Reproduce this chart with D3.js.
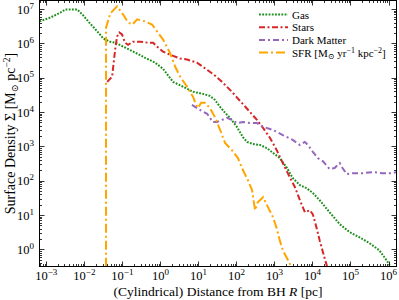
<!DOCTYPE html>
<html>
<head>
<meta charset="utf-8">
<script src="https://cdn.jsdelivr.net/npm/d3@7"></script>
<style>
  body { margin: 0; background: #fff; }
  text { font-family: "Liberation Serif", "DejaVu Serif", serif; fill: #000; }
</style>
</head>
<body>
<div id="chart"></div>
<script>
// DATA (log10 R [pc], log10 Sigma)
var gasLogR = [-3.18,-2.90,-2.63,-2.50,-2.19,-2.05,-1.85,-1.66,-1.50,-1.32,
  -1.19,-0.93,-0.66,-0.40,-0.14,0.07,0.33,0.59,0.86,0.99,
  1.12,1.30,1.43,1.57,1.70,1.83,2.01,2.17,2.28,2.43,
  2.62,2.80,2.96,3.14,3.33,3.48,3.67,3.85,4.01,4.19,
  4.45,4.72,4.98,5.24,5.50,5.76,5.95,6.08];
var gasLogS = [6.64,6.75,6.90,6.99,6.99,6.84,6.58,6.35,6.14,6.05,
  6.02,5.88,5.73,5.58,5.44,5.26,4.88,4.74,4.59,4.56,
  4.53,4.47,4.36,4.15,3.98,3.83,3.57,3.27,3.13,3.07,
  3.04,2.95,2.81,2.66,2.37,2.08,1.87,1.78,1.64,1.43,
  1.08,0.73,0.50,0.35,0.18,-0.03,-0.32,-0.56];

var starLogR = [-1.40,-1.27,-1.19,-1.14,-1.08,-1.01,-0.93,-0.85,-0.72,-0.53,
  -0.32,-0.19,-0.06,0.07,0.25,0.52,0.70,0.96,1.23,1.44,
  1.62,1.88,2.09,2.35,2.54,2.70,2.88,3.06,3.22,3.40,
  3.54,3.67,3.80,3.93,4.01,4.09,4.19,4.32,4.40];
var starLogS = [4.88,5.03,5.82,6.20,6.32,6.26,6.02,5.96,6.05,6.05,
  6.02,6.02,5.88,5.76,5.67,5.56,5.53,5.44,5.23,5.06,
  4.88,4.59,4.33,4.01,3.77,3.54,3.25,2.89,2.51,2.11,
  1.81,1.43,1.08,1.14,1.02,0.70,0.26,-0.26,-0.56];

var dmLogR = [0.83,1.04,1.23,1.38,1.49,1.62,1.75,1.88,2.01,2.17,
  2.35,2.54,2.70,2.96,3.22,3.48,3.67,3.80,3.88,4.01,
  4.14,4.27,4.45,4.58,4.72,4.79,4.90,5.06,5.32,5.58,
  5.84,6.08,6.21];
var dmLogS = [4.21,4.06,3.95,3.71,3.71,3.77,3.83,3.77,3.68,3.71,
  3.68,3.68,3.57,3.48,3.33,3.19,3.04,3.13,3.04,2.84,
  2.66,2.57,2.34,2.37,2.51,2.37,2.19,2.22,2.22,2.25,
  2.22,2.22,2.25];

var sfrLogR = [-1.43,-1.43,-1.32,-1.14,-0.98,-0.85,-0.74,-0.61,-0.40,-0.22,
  -0.09,0.07,0.25,0.39,0.52,0.70,0.86,0.94,0.99,1.07,
  1.17,1.30,1.43,1.57,1.70,1.88,2.04,2.17,2.30,2.41,
  2.49,2.56,2.70,2.83,2.96,3.06,3.14,3.22,3.33,3.40,
  3.46];
var sfrLogS = [-1.00,6.46,6.87,7.08,6.84,6.61,6.55,6.70,6.64,6.55,
  6.35,6.11,5.73,5.32,5.03,4.74,4.44,4.21,4.12,4.27,
  4.27,4.12,3.86,3.48,3.10,2.89,2.66,2.31,2.02,1.73,
  1.14,1.37,1.52,1.23,0.94,0.61,0.26,-0.03,-0.26,-0.41,
  -0.53];

var xMajor = [-3,-2,-1,0,1,2,3,4,5,6];
var yMajor = [0,1,2,3,4,5,6,7];

var series = [
  {name: "Gas", r: gasLogR, s: gasLogS, color: "#1a8f1a", dash: "1.8,1.4"},
  {name: "Stars", r: starLogR, s: starLogS, color: "#d62728", dash: "6,2.5,2,2.5"},
  {name: "Dark Matter", r: dmLogR, s: dmLogS, color: "#9467bd", dash: "6,3,2,3"},
  {name: "SFR", r: sfrLogR, s: sfrLogS, color: "#ffa500", dash: "9,3,2,3"}
];

// SIZES
var w = 399, h = 300;
var x0 = 39.5, x1 = 396.5, y0 = 0.5, y1 = 266.5;

var x = d3.scaleLog().domain([Math.pow(10,-3.18), Math.pow(10,6.21)]).range([x0, x1]);
var y = d3.scaleLog().domain([Math.pow(10,-0.5), Math.pow(10,7.25)]).range([y1, y0]);

var svg = d3.select("#chart")
  .append("svg")
  .attr("width", w)
  .attr("height", h)
;

svg.append("clipPath").attr("id", "clip")
  .append("rect")
  .attr("x", x0).attr("y", y0)
  .attr("width", x1 - x0).attr("height", y1 - y0)
;

// lines
var line = d3.line()
  .x(function(d) { return x(d[0]); })
  .y(function(d) { return y(d[1]); })
;

var lines = svg.append("g").attr("clip-path", "url(#clip)");
series.forEach(function(sr) {
  var pts = sr.r.map(function(v, i) { return [Math.pow(10, v), Math.pow(10, sr.s[i])]; });
  lines.append("path")
    .datum(pts)
    .attr("d", line)
    .attr("fill", "none")
    .attr("stroke", sr.color)
    .attr("stroke-width", 2)
    .attr("stroke-dasharray", sr.dash)
  ;
});

// ticks, all inward on four sides
function minors(lo, hi) {
  var out = [];
  for (var d = lo; d <= hi; d++) {
    for (var k = 2; k <= 9; k++) out.push(k * Math.pow(10, d));
  }
  return out;
}
var ax = svg.append("g").attr("stroke", "#000").attr("stroke-width", 0.8);
var xd = x.domain(), yd = y.domain();
function inX(v) { return v >= xd[0] && v <= xd[1]; }
function inY(v) { return v >= yd[0] && v <= yd[1]; }

xMajor.map(function(e) { return [Math.pow(10, e), 5]; })
  .concat(minors(-4, 6).filter(inX).map(function(v) { return [v, 2.5]; }))
  .forEach(function(t) {
    var px = Math.round(x(t[0])) + 0.5;
    ax.append("line").attr("x1", px).attr("x2", px).attr("y1", y1).attr("y2", y1 - t[1]);
    ax.append("line").attr("x1", px).attr("x2", px).attr("y1", y0).attr("y2", y0 + t[1]);
  });

yMajor.map(function(e) { return [Math.pow(10, e), 5]; })
  .concat(minors(-1, 7).filter(inY).map(function(v) { return [v, 2.5]; }))
  .forEach(function(t) {
    var py = Math.round(y(t[0])) + 0.5;
    ax.append("line").attr("y1", py).attr("y2", py).attr("x1", x0).attr("x2", x0 + t[1]);
    ax.append("line").attr("y1", py).attr("y2", py).attr("x1", x1).attr("x2", x1 - t[1]);
  });

svg.append("rect")
  .attr("x", x0).attr("y", y0)
  .attr("width", x1 - x0).attr("height", y1 - y0)
  .attr("fill", "none")
  .attr("stroke", "#000")
  .attr("stroke-width", 1)
;

// tick labels "10^n"
function powLabel(sel, e) {
  sel.append("tspan").text("10");
  sel.append("tspan").attr("dy", -5).attr("font-size", 9).text(e < 0 ? "\u2212" + (-e) : e);
}
xMajor.forEach(function(e) {
  svg.append("text")
    .attr("x", x(Math.pow(10, e)))
    .attr("y", 279.5)
    .attr("text-anchor", "middle")
    .attr("font-size", 12.5)
    .call(powLabel, e)
  ;
});
yMajor.forEach(function(e) {
  svg.append("text")
    .attr("x", 34)
    .attr("y", y(Math.pow(10, e)) + 4.5)
    .attr("text-anchor", "end")
    .attr("font-size", 12.5)
    .call(powLabel, e)
  ;
});

// axis titles
var xl = svg.append("text")
  .attr("x", (x0 + x1) / 2)
  .attr("y", 296)
  .attr("text-anchor", "middle")
  .attr("font-size", 13.5)
;
xl.append("tspan").text("(Cylindrical) Distance from BH ");
xl.append("tspan").attr("font-style", "italic").text("R");
xl.append("tspan").text(" [pc]");

var yl = svg.append("text")
  .attr("transform", "translate(15," + ((y0 + y1) / 2) + ") rotate(-90)")
  .attr("text-anchor", "middle")
  .attr("font-size", 14)
;
yl.append("tspan").text("Surface Density \u03A3 [M");
yl.append("tspan").attr("dy", 3).attr("font-size", 9.5).text("\u2299");
yl.append("tspan").attr("dy", -3).text(" pc");
yl.append("tspan").attr("dy", -5).attr("font-size", 9.5).text("\u22122");
yl.append("tspan").attr("dy", 5).text("]");

// legend
var lg = svg.append("g");
series.forEach(function(sr, i) {
  var ly = 14.5 + i * 12.7;
  lg.append("line")
    .attr("x1", 259).attr("x2", 288)
    .attr("y1", ly).attr("y2", ly)
    .attr("stroke", sr.color)
    .attr("stroke-width", 2)
    .attr("stroke-dasharray", sr.dash)
  ;
  var t = lg.append("text")
    .attr("x", 292)
    .attr("y", ly + 4)
    .attr("font-size", 11)
  ;
  if (sr.name == "SFR") {
    t.append("tspan").text("SFR [M");
    t.append("tspan").attr("dy", 2.5).attr("font-size", 8).text("\u2299");
    t.append("tspan").attr("dy", -2.5).text(" yr");
    t.append("tspan").attr("dy", -4).attr("font-size", 8).text("\u22121");
    t.append("tspan").attr("dy", 4).text(" kpc");
    t.append("tspan").attr("dy", -4).attr("font-size", 8).text("\u22122");
    t.append("tspan").attr("dy", 4).text("]");
  } else {
    t.text(sr.name);
  }
});
</script>
</body>
</html>
